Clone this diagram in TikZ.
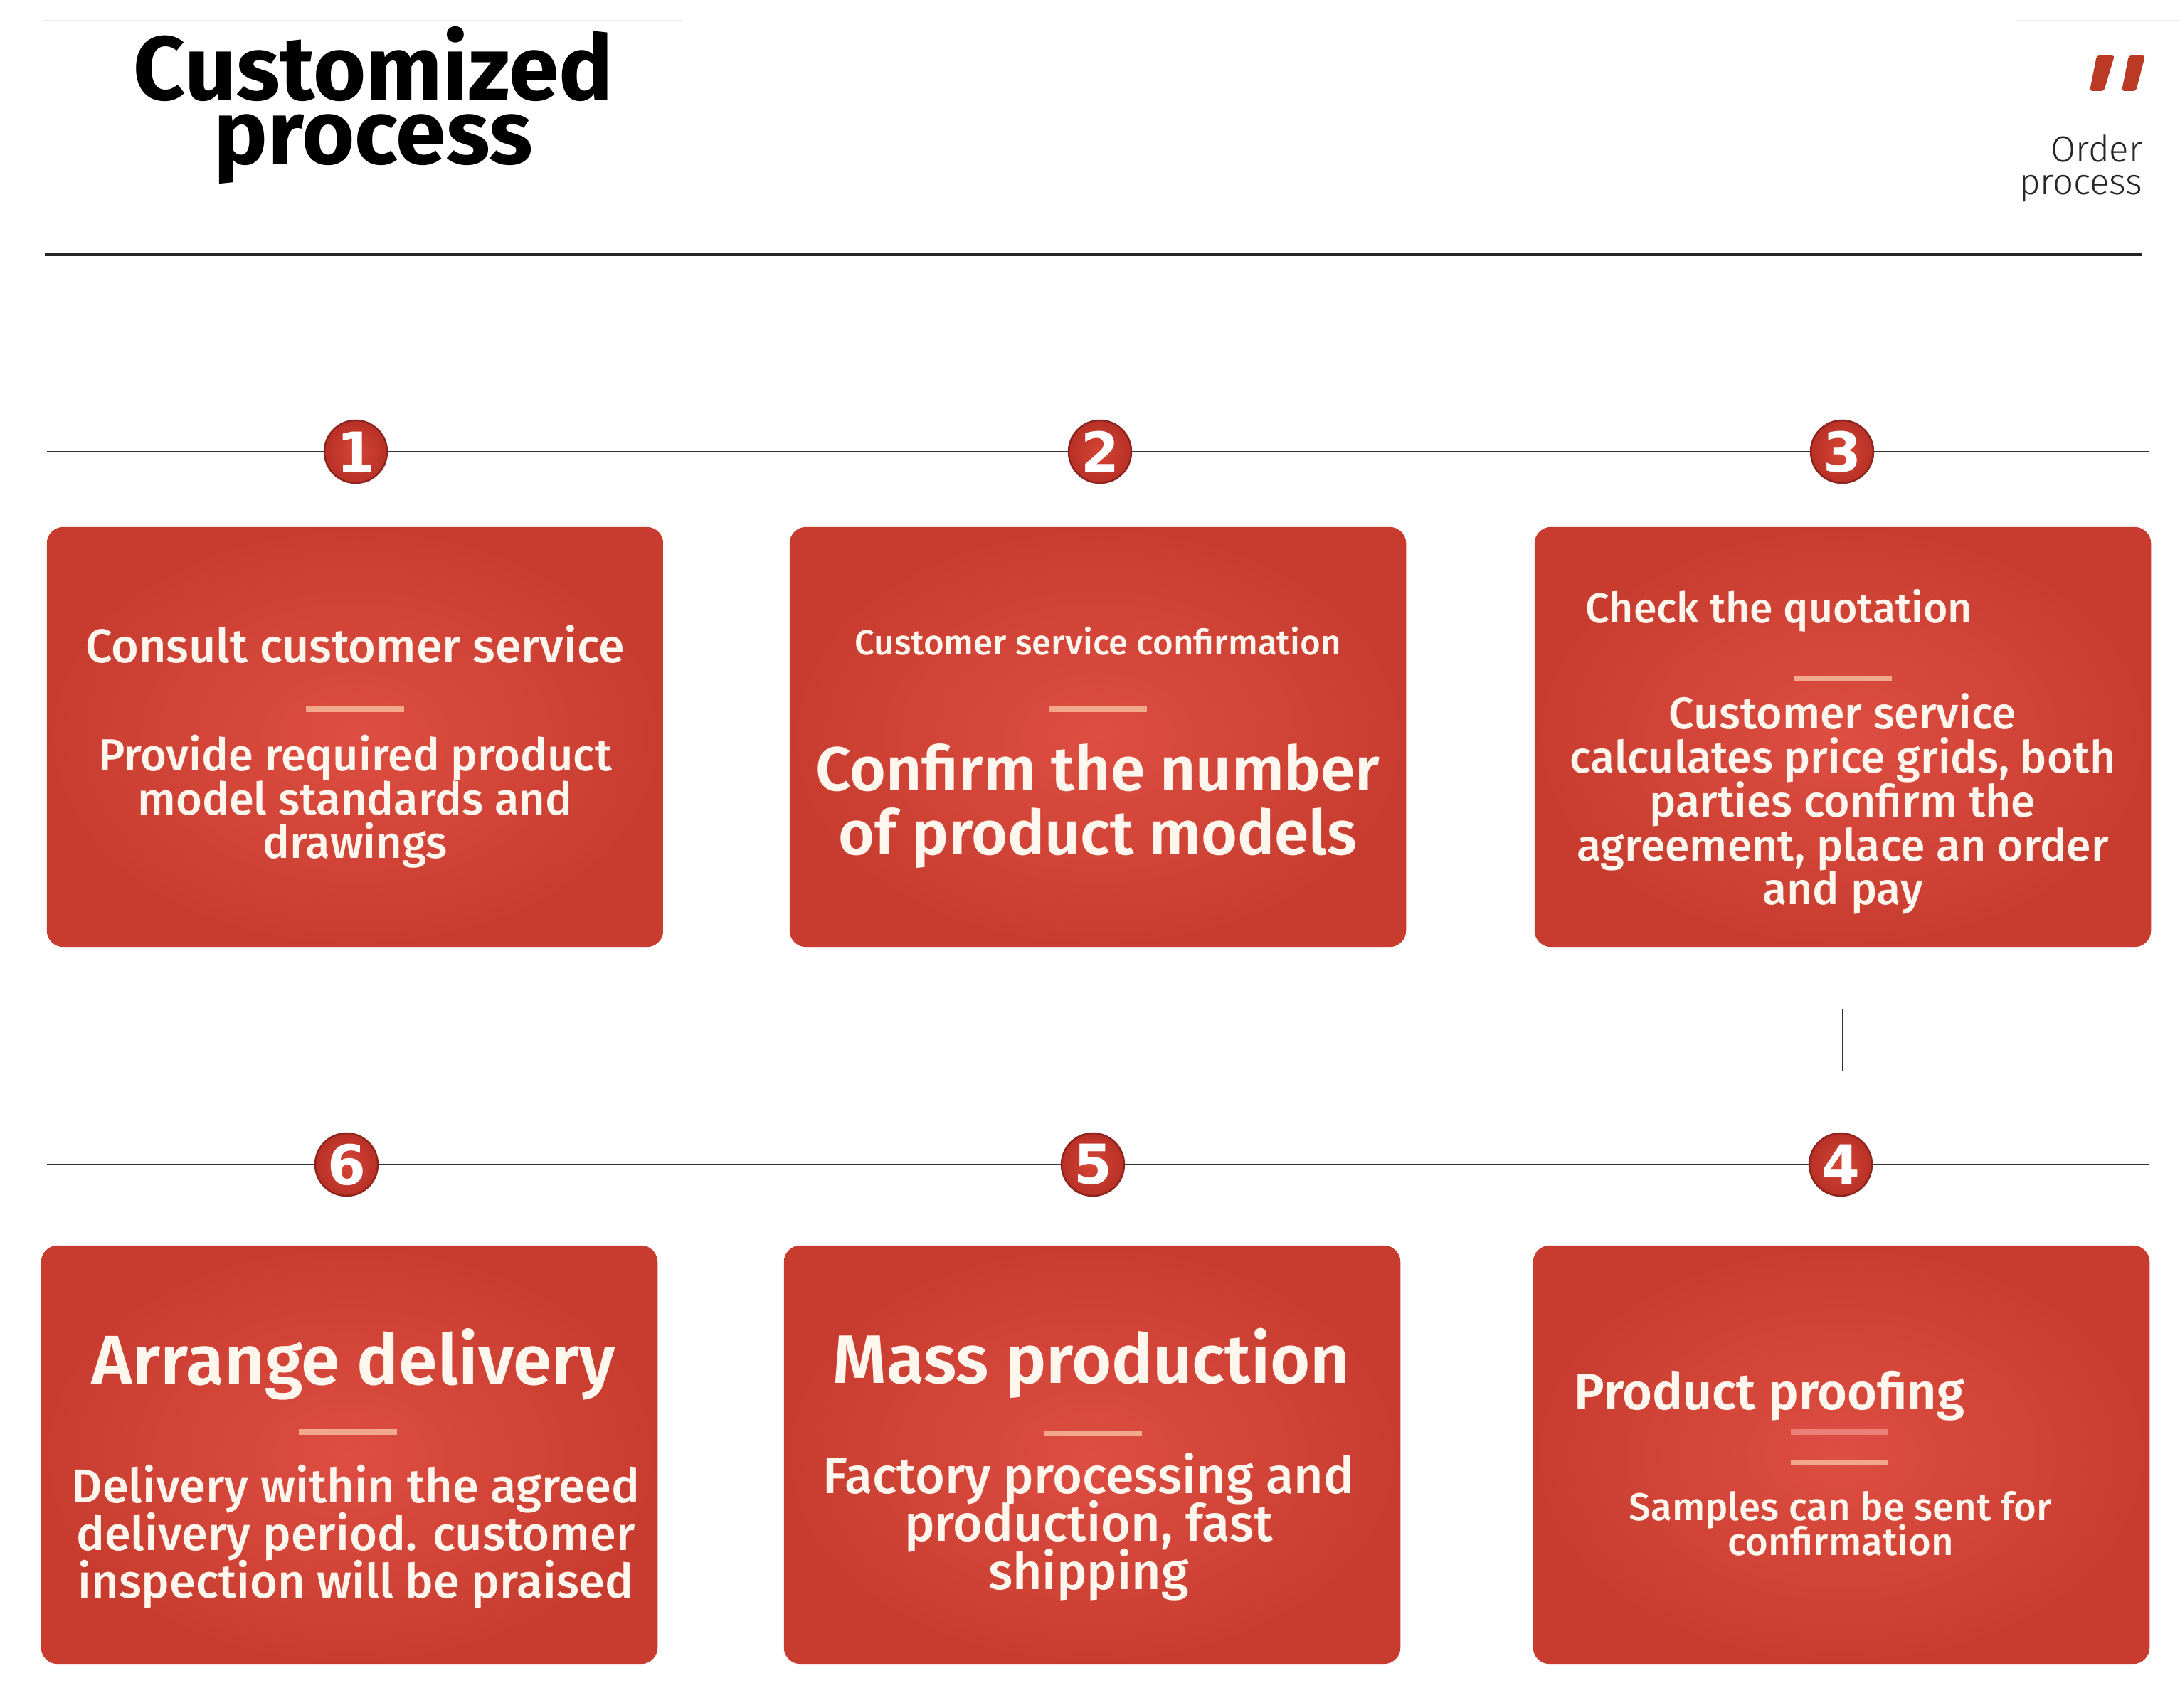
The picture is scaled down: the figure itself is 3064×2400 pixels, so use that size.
\documentclass[tikz,border=0pt]{standalone}
\usepackage{fontspec}
\setmainfont{Fira Sans}
\IfFontExistsTF{Fira Sans Medium}{\newfontfamily\medfont{Fira Sans Medium}}{\newfontfamily\medfont{Fira Sans}[FakeBold=1.2]}
\IfFontExistsTF{Fira Sans SemiBold}{\newfontfamily\semifont{Fira Sans SemiBold}}{\newfontfamily\semifont{Fira Sans}[FakeBold=2]}
\IfFontExistsTF{Fira Sans Light}{\newfontfamily\lightfont{Fira Sans Light}}{\newfontfamily\lightfont{Fira Sans}}
\newfontfamily\digitfont{DejaVu Sans}
\usetikzlibrary{calc}
\definecolor{boxin}{RGB}{222,78,66}
\definecolor{boxout}{RGB}{200,60,48}
\definecolor{circin}{RGB}{214,70,54}
\definecolor{circout}{RGB}{184,48,38}
\definecolor{circedge}{RGB}{140,35,28}
\definecolor{barcol}{RGB}{242,168,138}
\definecolor{barpale}{RGB}{236,128,118}
\definecolor{txt}{RGB}{255,246,238}
\definecolor{slashcol}{RGB}{186,58,38}
\definecolor{linecol}{RGB}{51,51,51}
\begin{document}
\lineskiplimit=-100pt
\begin{tikzpicture}[x=0.01cm,y=-0.01cm,
  box/.style={rectangle, rounded corners=0.23cm, minimum width=8.66cm, minimum height=5.9cm, inner sep=0pt, inner color=boxin, outer color=boxout},
  circ/.style={circle, minimum size=0.88cm, inner sep=0pt, draw=circedge, line width=0.7pt, inner color=circin, outer color=circout, text=white, font=\digitfont\bfseries\fontsize{22}{22}\selectfont},
  bar/.style={rectangle, fill=barcol, minimum width=1.37cm, minimum height=0.08cm, inner sep=0pt},
  conn/.style={draw=linecol, line width=0.6pt},
  txtnode/.style={text=txt, inner sep=0pt, align=center},
]
\useasboundingbox (0,0) rectangle (3064,2400);
\fill[white] (0,0) rectangle (3064,2400);

% faint top lines
\draw[black!8, line width=0.8pt] (60,29) -- (960,29);
\draw[black!8, line width=0.8pt] (2833,29) -- (3064,29);

% title (base anchor = baseline of last line)
\node[anchor=base, inner sep=0pt, align=center, font=\bfseries\fontsize{36.2}{25.5}\selectfont] (title) at (525,230) {Customized\\process};

% slashes
\fill[slashcol, rounded corners=1pt] (2947,78) -- (2972,78) -- (2957,128) -- (2937,128) -- cycle;
\fill[slashcol, rounded corners=1pt] (2992,78) -- (3015,78) -- (3002,128) -- (2982,128) -- cycle;
\node[anchor=base east, inner sep=0pt, align=right, text=black!85, font=\lightfont\fontsize{14.5}{13}\selectfont] (ord) at (3012,273) {Order\\process};

% header rule
\coordinate (hl) at (63,358);
\coordinate (hr) at (3011,358);
\draw[draw=black!85, line width=1pt] (hl) -- (hr);

% boxes
\node[box] (b1) at (499,1036) {};
\node[box] (b2) at (1543,1036) {};
\node[box] (b3) at (2590,1036) {};
\node[box, minimum height=5.88cm] (b6) at (491,2045) {};
\node[box, minimum height=5.88cm] (b5) at (1535,2045) {};
\node[box, minimum height=5.88cm] (b4) at (2588,2045) {};

% circles
\node[circ] (c1) at (500,635) {1};
\node[circ] (c2) at (1546,635) {2};
\node[circ] (c3) at (2589,635) {3};
\node[circ] (c6) at (487,1637) {6};
\node[circ] (c5) at (1536,1637) {5};
\node[circ] (c4) at (2587,1637) {4};

% timeline connectors
\coordinate (l1) at (66,635);
\coordinate (r1) at (3021,635);
\coordinate (l2) at (66,1637);
\coordinate (r2) at (3021,1637);
\draw[conn] (l1) -- (c1);
\draw[conn] (c1) -- (c2);
\draw[conn] (c2) -- (c3);
\draw[conn] (c3) -- (r1);
\draw[conn] (l2) -- (c6);
\draw[conn] (c6) -- (c5);
\draw[conn] (c5) -- (c4);
\draw[conn] (c4) -- (r2);
\draw[conn, shorten <=0.86cm, shorten >=0.86cm] (b3.south) -- (b3.south |- c4.north);

% box 1
\node[txtnode, font=\medfont\fontsize{18.9}{18}\selectfont] (t1a) at (499,905) {Consult customer service};
\node[bar] (bar1) at (499,997) {};
\node[txtnode, font=\medfont\fontsize{18}{17.5}\selectfont] (t1b) at (499,1127) {Provide required product\\model standards and\\drawings};

% box 2
\node[txtnode, font=\medfont\fontsize{14}{14}\selectfont] (t2a) at (1543,901) {Customer service confirmation};
\node[bar] (bar2) at (1543,997) {};
\node[txtnode, font=\semifont\fontsize{24.8}{25.6}\selectfont] (t2b) at (1543,1133) {Confirm the number\\of product models};

% box 3
\node[txtnode, anchor=west, font=\medfont\fontsize{16.8}{16.8}\selectfont] (t3a) at (2228,858) {Check the quotation};
\node[bar] (bar3) at (2590,954) {};
\node[txtnode, font=\medfont\fontsize{17.8}{17.6}\selectfont] (t3b) at (2590,1130) {Customer service\\calculates price grids, both\\parties confirm the\\agreement, place an order\\and pay};

% box 6
\node[txtnode, font=\semifont\fontsize{28}{28}\selectfont] (t6a) at (497,1918) {Arrange delivery};
\node[bar] (bar6) at (489,2013) {};
\node[txtnode, font=\medfont\fontsize{19}{19}\selectfont] (t6b) at (500,2160) {Delivery within the agreed\\delivery period. customer\\inspection will be praised};

% box 5
\node[txtnode, font=\semifont\fontsize{27.4}{27.4}\selectfont] (t5a) at (1534,1916) {Mass production};
\node[bar] (bar5) at (1536,2015) {};
\node[txtnode, font=\medfont\fontsize{20.4}{19.2}\selectfont] (t5b) at (1530,2146) {Factory processing and\\production, fast\\shipping};

% box 4
\node[txtnode, anchor=west, font=\semifont\fontsize{20.4}{20.4}\selectfont] (t4a) at (2212,1962) {Product proofing};
\node[bar, fill=barpale] (bar4a) at (2585,2013) {};
\node[bar] (bar4b) at (2585,2056) {};
\node[txtnode, font=\medfont\fontsize{15.5}{14}\selectfont] (t4b) at (2587,2142) {Samples can be sent for\\confirmation};
\end{tikzpicture}
\end{document}
